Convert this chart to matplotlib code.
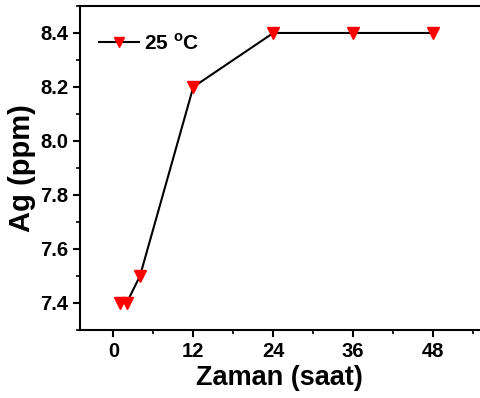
import matplotlib
matplotlib.use("Agg")
import matplotlib.pyplot as plt
from matplotlib.ticker import MultipleLocator

plt.rcParams['font.family'] = ['Liberation Sans', 'DejaVu Sans']
plt.rcParams['font.weight'] = 'bold'
plt.rcParams['mathtext.fontset'] = 'custom'
plt.rcParams['mathtext.bf'] = 'Liberation Sans:bold'
plt.rcParams['mathtext.rm'] = 'Liberation Sans:bold'

time_h = [1, 2, 4, 12, 24, 36, 48]
ag_ppm = [7.4, 7.4, 7.5, 8.2, 8.4, 8.4, 8.4]
series_label = r"25 $^{\mathrm{o}}$C"
x_ticks = [0, 12, 24, 36, 48]
y_ticks = [7.4, 7.6, 7.8, 8.0, 8.2, 8.4]

fig = plt.figure(figsize=(4.8, 3.98), dpi=100)
ax = fig.add_axes([0.1667, 0.171, 0.833, 0.814])

ax.plot(time_h, ag_ppm, color='black', lw=1.5, marker='v', markersize=8.5,
        markerfacecolor='#ff0000', markeredgecolor='#ff0000', label=series_label)

ax.set_xlim(-5, 55)
ax.set_ylim(7.3, 8.5)
ax.set_xticks(x_ticks)
ax.set_yticks(y_ticks)
ax.set_yticklabels([f"{v:.1f}" for v in y_ticks])
ax.xaxis.set_minor_locator(MultipleLocator(6))
ax.yaxis.set_minor_locator(MultipleLocator(0.1))
ax.tick_params(which='major', direction='out', length=5, width=1.5, labelsize=14.5)
ax.tick_params(which='minor', direction='out', length=3, width=1.2)
for s in ['left', 'bottom', 'top']:
    ax.spines[s].set_linewidth(1.5)
ax.spines['right'].set_visible(False)

ax.set_xlabel("Zaman (saat)", fontsize=19.5, fontweight='bold', labelpad=3)
ax.set_ylabel("Ag (ppm)", fontsize=21, fontweight='bold', labelpad=3)

leg = ax.legend(loc='upper left', frameon=False, handlelength=1.9, markerscale=0.8,
                handletextpad=0.25, borderaxespad=0.9, bbox_to_anchor=(-0.02, 1.0),
                prop={'weight': 'bold', 'size': 15})

fig.savefig("out.png", dpi=100)
